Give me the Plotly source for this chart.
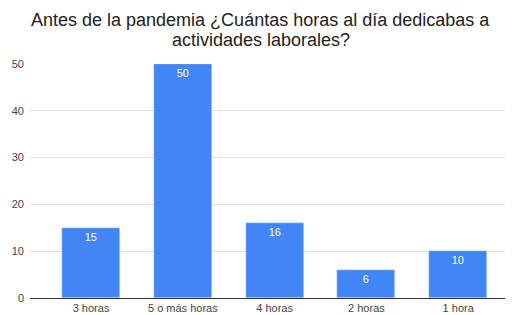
import plotly.graph_objects as go

categories = ["3 horas", "5 o más horas", "4 horas", "2 horas", "1 hora"]
values = [15, 50, 16, 6, 10]
y_ticks = [0, 10, 20, 30, 40, 50]
title_lines = ["Antes de la pandemia ¿Cuántas horas al día dedicabas a", "actividades laborales?"]

fig = go.Figure(go.Bar(
    x=list(range(len(categories))), y=values,
    marker_color="#4285F4", width=0.63,
    text=[str(v) for v in values], textposition="inside",
    insidetextanchor="end",
    textfont=dict(color="white", size=11, family="Liberation Sans, Arial"),
))
fig.update_layout(
    width=515, height=315,
    margin=dict(l=22, r=18, t=56, b=25),
    paper_bgcolor="white", plot_bgcolor="white",
    font=dict(family="Liberation Sans, Arial", color="#222"),
    showlegend=False, bargap=0,
    annotations=[dict(text=t, xref="paper", yref="paper", x=0.486, y=yy,
                      xanchor="center", yanchor="middle", showarrow=False,
                      font=dict(size=18, color="#222"))
                 for t, yy in zip(title_lines, [1.19, 1.103])],
)
fig.update_xaxes(range=[-0.665, 4.51], tickvals=list(range(len(categories))),
                 ticktext=categories, showgrid=False, ticks="", tickfont=dict(size=11, color="#444"),
                 showline=True, linecolor="#333", linewidth=1, zeroline=False, fixedrange=True,
                 automargin=False)
fig.update_yaxes(range=[0, 50], tickvals=y_ticks, showgrid=True, gridcolor="#e0e0e0",
                 tickfont=dict(size=11, color="#444"), zeroline=False, ticks="", ticklen=0,
                 ticklabelstandoff=5, automargin=False)
fig.write_html("out.html")
